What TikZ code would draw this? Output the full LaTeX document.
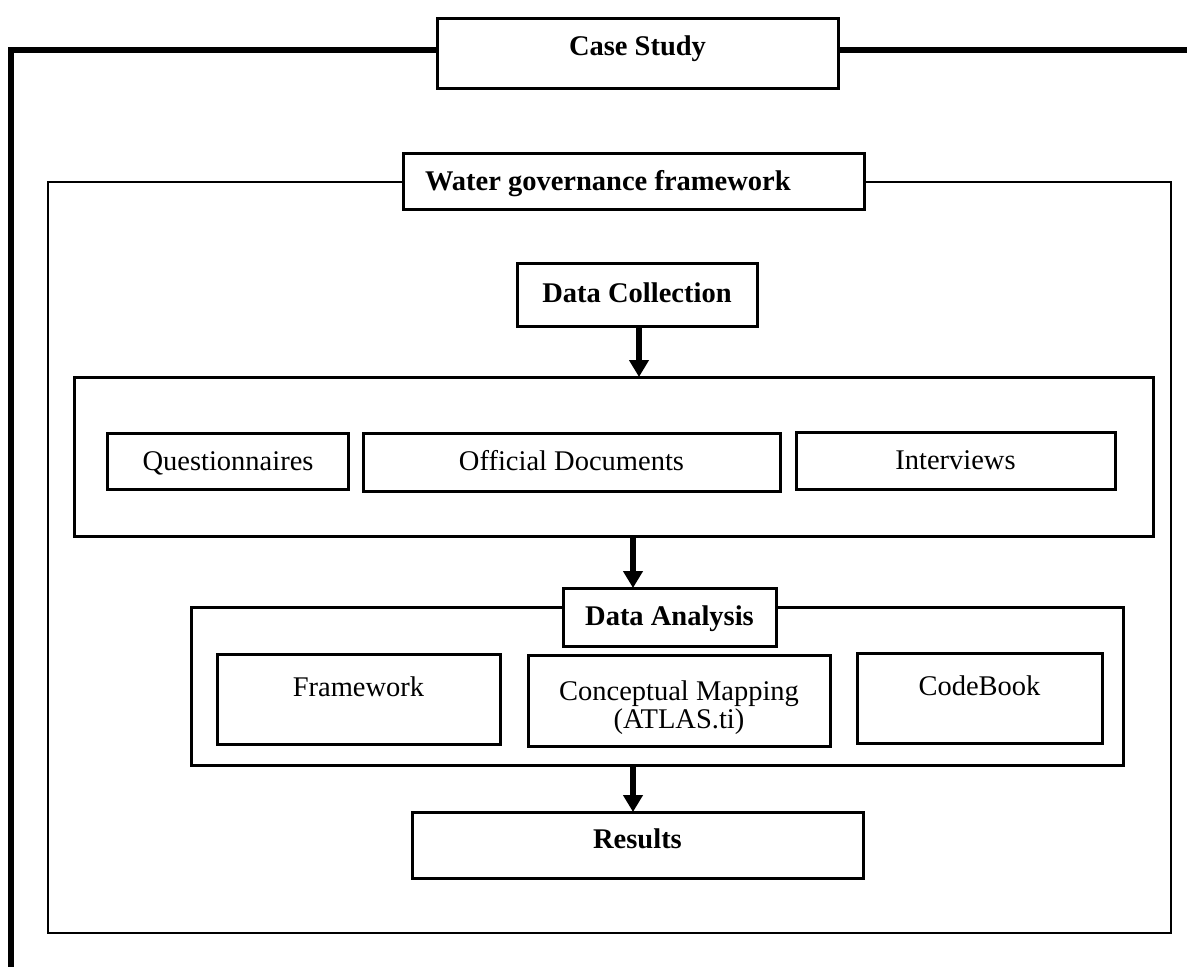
\documentclass[tikz,border=0pt]{standalone}
\usepackage{fontspec}
\setmainfont{Liberation Serif}
\usetikzlibrary{arrows.meta}

\tikzset{
  every picture/.style={x=1pt,y=-1pt},
  boxframe/.style={draw=black, line width=3pt, fill=white, rectangle,
    anchor=north west, inner sep=0pt, outer sep=0pt},
  outerframe/.style={draw=black, line width=2.2pt, rectangle,
    anchor=north west, inner sep=0pt, outer sep=0pt},
  lbl/.style={inner sep=0pt, outer sep=0pt, anchor=base,
    font=\fontsize{28.5}{28}\selectfont},
  blbl/.style={lbl, font=\fontsize{28.5}{28}\selectfont\bfseries},
  flow/.style={line width=6pt, -{Triangle[width=19pt,length=17pt]}},
}

\begin{document}
\begin{tikzpicture}
\useasboundingbox (0,0) rectangle (1187,967);

% heavy case-study border, open at the right and bottom
\coordinate (csright) at (1190,50);
\coordinate (csbottom) at (10.5,970);
\draw[line width=6pt] (csright) -| (csbottom);
\node[boxframe, minimum width=401, minimum height=70] (cs) at (437,18) {};
\node[blbl] (cst) at (637.5,55) {Case Study};

% water governance framework
\node[outerframe, minimum width=1123, minimum height=751] (wg) at (48,182) {};
\node[boxframe, minimum width=461, minimum height=56] (wgbox) at (403,153) {};
\node[blbl, anchor=base west] (wgt) at (425,190) {Water governance framework};

% data collection
\node[boxframe, minimum width=240, minimum height=63] (dc) at (517,263) {};
\node[blbl] (dct) at (637,302) {Data Collection};

\node[boxframe, minimum width=1079, minimum height=159] (coll) at (74,377) {};
\node[boxframe, minimum width=241, minimum height=56] (qu) at (107,433) {};
\node[lbl] (qut) at (228,470) {Questionnaires};
\node[boxframe, minimum width=417, minimum height=58] (od) at (363,433) {};
\node[lbl] (odt) at (571.5,470) {Official Documents};
\node[boxframe, minimum width=319, minimum height=57] (iv) at (796,432) {};
\node[lbl] (ivt) at (955.5,469) {Interviews};

% data analysis
\node[boxframe, minimum width=932, minimum height=158] (ana) at (191,607) {};
\node[boxframe, minimum width=213, minimum height=58] (da) at (563,588) {};
\node[blbl] (dat) at (669.5,625) {Data Analysis};
\node[boxframe, minimum width=283, minimum height=90] (fw) at (217,654) {};
\node[lbl] (fwt) at (358.5,696) {Framework};
\node[boxframe, minimum width=302, minimum height=91] (cm) at (528,655) {};
\node[lbl, align=center] (cmt) at (679,728) {Conceptual Mapping\\(ATLAS.ti)};
\node[boxframe, minimum width=245, minimum height=90] (cb) at (857,653) {};
\node[lbl] (cbt) at (979.5,695) {CodeBook};

% results
\node[boxframe, minimum width=451, minimum height=66] (res) at (412,812) {};
\node[blbl] (rest) at (637.5,848) {Results};

% flow arrows
\draw[flow] (dc.south -| 639,0) -- (coll.north -| 639,0);
\draw[flow] (coll.south -| 633,0) -- (da.north -| 633,0);
\draw[flow] (ana.south -| 633,0) -- (res.north -| 633,0);
\end{tikzpicture}
\end{document}
